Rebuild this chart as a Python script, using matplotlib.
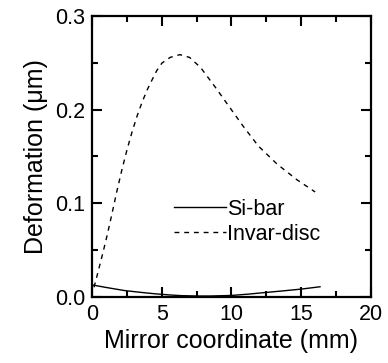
import numpy as np
import matplotlib.pyplot as plt
from matplotlib.ticker import MultipleLocator

plt.rcParams['font.family'] = ['Liberation Sans', 'DejaVu Sans']

# deformation profiles along the mirror (mm, um)
si_x = [0.0, 1.0, 2.35, 3.5, 4.5, 5.5, 6.4, 7.5, 8.5, 10.0, 11.2, 12.4, 13.7, 15.0, 16.35]
si_y = [0.0125, 0.0098, 0.0064, 0.0045, 0.003, 0.0018, 0.001, 0.0006, 0.0006, 0.0012, 0.0026, 0.0043, 0.0061, 0.008, 0.0105]

inv_x = [0.15, 0.36, 0.72, 1.08, 1.44, 1.79, 2.15, 2.51, 2.87, 3.23, 3.59, 3.95, 4.31, 4.65, 5.02, 5.6, 6.3,
         7.0, 7.8, 8.85, 9.9, 10.86, 11.94, 13.26, 14.7, 16.0]
inv_y = [0.01, 0.022, 0.043, 0.065, 0.089, 0.113, 0.136, 0.157, 0.176, 0.193, 0.208, 0.221, 0.232, 0.242, 0.25, 0.256, 0.259,
         0.256, 0.245, 0.224, 0.202, 0.182, 0.161, 0.142, 0.125, 0.112]

fig = plt.figure(figsize=(3.88, 3.63), dpi=100)
ax = fig.add_axes([0.237, 0.183, 0.719, 0.772])

ax.plot(si_x, si_y, color='black', lw=1.0, label='Si-bar')
ax.plot(inv_x, inv_y, color='black', lw=1.0, dashes=(3.5, 3.5), label='Invar-disc')

ax.set_xlim(0, 20)
ax.set_ylim(0, 0.3)
ax.xaxis.set_major_locator(MultipleLocator(5))
ax.xaxis.set_minor_locator(MultipleLocator(2.5))
ax.yaxis.set_major_locator(MultipleLocator(0.1))
ax.yaxis.set_minor_locator(MultipleLocator(0.05))
ax.tick_params(which='both', direction='in', top=True, right=True, width=1.5, labelsize=15.5)
ax.tick_params(which='major', length=7, pad=5)
ax.tick_params(which='minor', length=4)
for s in ax.spines.values():
    s.set_linewidth(1.6)

ax.set_xlabel('Mirror coordinate (mm)', fontsize=18, labelpad=3)
ax.set_ylabel('Deformation (\u03bcm)', fontsize=18, labelpad=5)

ax.legend(loc='center left', bbox_to_anchor=(0.294, 0.267), frameon=False, fontsize=15.5,
          handlelength=2.4, handletextpad=0.05, labelspacing=0.2, borderpad=0, borderaxespad=0)

fig.savefig('out.png', dpi=100)
